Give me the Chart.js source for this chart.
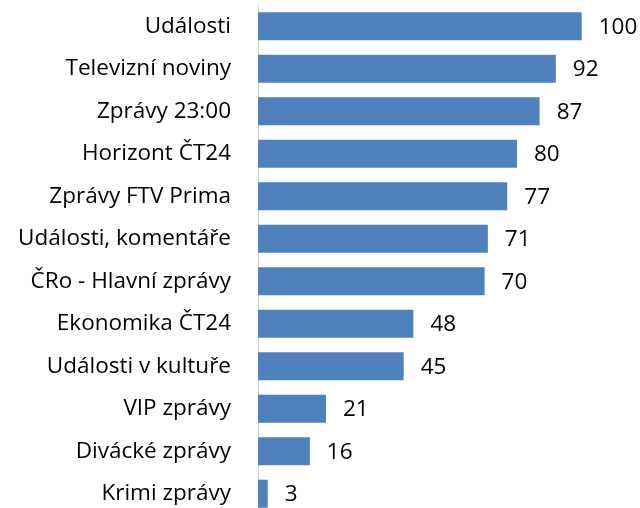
<!DOCTYPE html>
<html>
<head>
<meta charset="utf-8">
<script src="https://cdn.jsdelivr.net/npm/chart.js@4"></script>
<style>
  html, body { margin: 0; padding: 0; background: #fff; overflow: hidden; }
  canvas { display: block; }
</style>
</head>
<body>
<canvas id="chart" width="640" height="520"></canvas>
<script>
const categories = [
  'Události', 'Televizní noviny', 'Zprávy 23:00', 'Horizont ČT24', 'Zprávy FTV Prima',
  'Události, komentáře', 'ČRo - Hlavní zprávy', 'Ekonomika ČT24', 'Události v kultuře',
  'VIP zprávy', 'Divácké zprávy', 'Krimi zprávy'
];
const values = [100, 92, 87, 80, 77, 71, 70, 48, 45, 21, 16, 3];

const FONT = '"Open Sans", sans-serif';
const FONT_SIZE = 22.5;

// draws the number to the right of each bar
const valueLabels = {
  id: 'valueLabels',
  afterDatasetsDraw(chart) {
    const ctx = chart.ctx;
    const meta = chart.getDatasetMeta(0);
    ctx.save();
    ctx.font = FONT_SIZE + 'px ' + FONT;
    ctx.fillStyle = '#000';
    ctx.textBaseline = 'middle';
    ctx.textAlign = 'left';
    meta.data.forEach((bar, i) => {
      ctx.fillText(values[i], bar.x + 17, bar.y + 1);
    });
    ctx.restore();
  }
};

new Chart(document.getElementById('chart').getContext('2d'), {
  type: 'bar',
  data: {
    labels: categories,
    datasets: [{
      data: values,
      backgroundColor: '#4f81bd',
      barPercentage: 0.66,
      categoryPercentage: 1
    }]
  },
  options: {
    indexAxis: 'y',
    responsive: false,
    animation: false,
    layout: { padding: { top: 5, bottom: 5, left: 0, right: 0 } },
    plugins: { legend: { display: false }, tooltip: { enabled: false } },
    scales: {
      x: { display: false, min: 0, max: 118 },
      y: {
        afterFit(scale) {
          scale.width = 258;
          // tick padding would otherwise be added above and below the axis
          scale.paddingTop = 0;
          scale.paddingBottom = 0;
        },
        grid: { display: false, drawTicks: false },
        border: { display: true, color: '#d0d0d0', width: 1 },
        ticks: { color: '#000', padding: 27, font: { family: FONT, size: FONT_SIZE } }
      }
    }
  },
  plugins: [valueLabels]
});
</script>
</body>
</html>
